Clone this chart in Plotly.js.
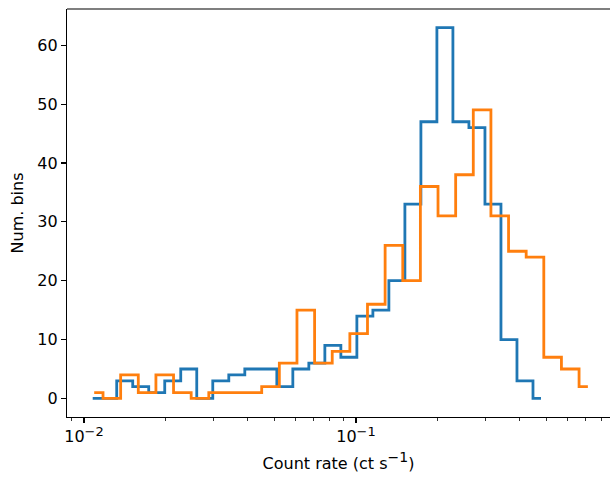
<!DOCTYPE html>
<html>
<head>
<meta charset="utf-8">
<script src="https://cdn.plot.ly/plotly-3.0.1.min.js"></script>
<style>html,body{margin:0;padding:0;overflow:hidden;background:#fff}</style>
</head>
<body>
<div id="chart" style="width:610px;height:477px"></div>
<script>
// Blue series: bin centres (count rate, ct/s) and counts
const blueRate = [0.010764, 0.012326, 0.014114, 0.016163, 0.018508, 0.021194, 0.024270, 0.027796,
  0.031833, 0.036452, 0.041744, 0.047804, 0.054742, 0.062686, 0.071783, 0.082200, 0.094136,
  0.10780, 0.12344, 0.14135, 0.16186, 0.18535, 0.21224, 0.24305, 0.27836, 0.31878, 0.36504,
  0.41804, 0.47872];
const blueCounts = [0, 0, 3, 2, 1, 3, 5, 0, 3, 4, 5, 5, 2, 5, 6, 9, 7, 14, 15, 20, 33, 47, 63,
  47, 46, 33, 10, 3, 0];

// Orange series: bin centres (count rate, ct/s) and counts
const orangeRate = [0.010902, 0.012657, 0.014695, 0.017060, 0.019806, 0.022991, 0.026694,
  0.030989, 0.035979, 0.041772, 0.048497, 0.056303, 0.065367, 0.075890, 0.088107, 0.10228,
  0.11875, 0.13787, 0.16006, 0.18583, 0.21576, 0.25049, 0.29080, 0.33763, 0.39198, 0.45499,
  0.52821, 0.61326, 0.71199];
const orangeCounts = [1, 0, 4, 1, 4, 1, 0, 1, 1, 1, 2, 6, 15, 6, 8, 11, 16, 26, 20, 36, 31, 38,
  49, 31, 25, 24, 7, 5, 2];

// Axis ticks
const xMajorTicks = [0.01, 0.1];
const xMajorLabels = ['10<sup><span style="font-size:13px">\u22122</span></sup>',
                      '10<sup><span style="font-size:13px">\u22121</span></sup>'];
const xMinorTicks = [0.009, 0.02, 0.03, 0.04, 0.05, 0.06, 0.07, 0.08, 0.09,
  0.2, 0.3, 0.4, 0.5, 0.6, 0.7, 0.8];
const yTicks = [0, 10, 20, 30, 40, 50, 60];
const xTitle = 'Count rate (ct s<sup><span style="font-size:14px">\u22121</span></sup>)';
const yTitle = 'Num. bins';

const font = {family: 'DejaVu Sans', size: 16, color: '#000'};

const traces = [
  {x: blueRate, y: blueCounts, type: 'scatter', mode: 'lines',
   line: {shape: 'hvh', color: '#1f77b4', width: 2.8}, hoverinfo: 'skip'},
  {x: orangeRate, y: orangeCounts, type: 'scatter', mode: 'lines',
   line: {shape: 'hvh', color: '#ff7f0e', width: 2.8}, hoverinfo: 'skip'}
];

const layout = {
  width: 610, height: 477,
  margin: {l: 67, r: 0, t: 9, b: 60, pad: 0},
  paper_bgcolor: '#fff', plot_bgcolor: '#fff',
  showlegend: false,
  font: font,
  xaxis: {
    type: 'log', range: [-2.0625, -0.0662], autorange: false,
    showgrid: false, zeroline: false,
    showline: true, linecolor: '#000', linewidth: 1.1, mirror: false,
    ticks: 'outside', ticklen: 5, tickwidth: 1.1, tickcolor: '#000',
    tickmode: 'array', tickvals: xMajorTicks, ticktext: xMajorLabels,
    tickfont: {family: 'DejaVu Sans', size: 16, color: '#000'},
    minor: {tickmode: 'array', tickvals: xMinorTicks, ticks: 'outside', ticklen: 3,
            tickwidth: 0.8, tickcolor: '#000', showgrid: false},
    title: {text: xTitle, font: {family: 'DejaVu Sans', size: 16, color: '#000'}, standoff: 12}
  },
  yaxis: {
    range: [-3.15, 66.15], autorange: false,
    showgrid: false, zeroline: false,
    showline: true, linecolor: '#000', linewidth: 1.1, mirror: false,
    ticks: 'outside', ticklen: 5, tickwidth: 1.1, tickcolor: '#000',
    tickmode: 'array', tickvals: yTicks,
    tickfont: {family: 'DejaVu Sans', size: 16, color: '#000'},
    title: {text: yTitle, font: {family: 'DejaVu Sans', size: 16, color: '#000'}, standoff: 9}
  },
  shapes: [
    {type: 'line', xref: 'paper', yref: 'paper', x0: 0, x1: 1, y0: 1, y1: 1,
     line: {color: '#000', width: 1.1}}
  ]
};

Plotly.newPlot('chart', traces, layout, {staticPlot: true, displayModeBar: false});
</script>
</body>
</html>
